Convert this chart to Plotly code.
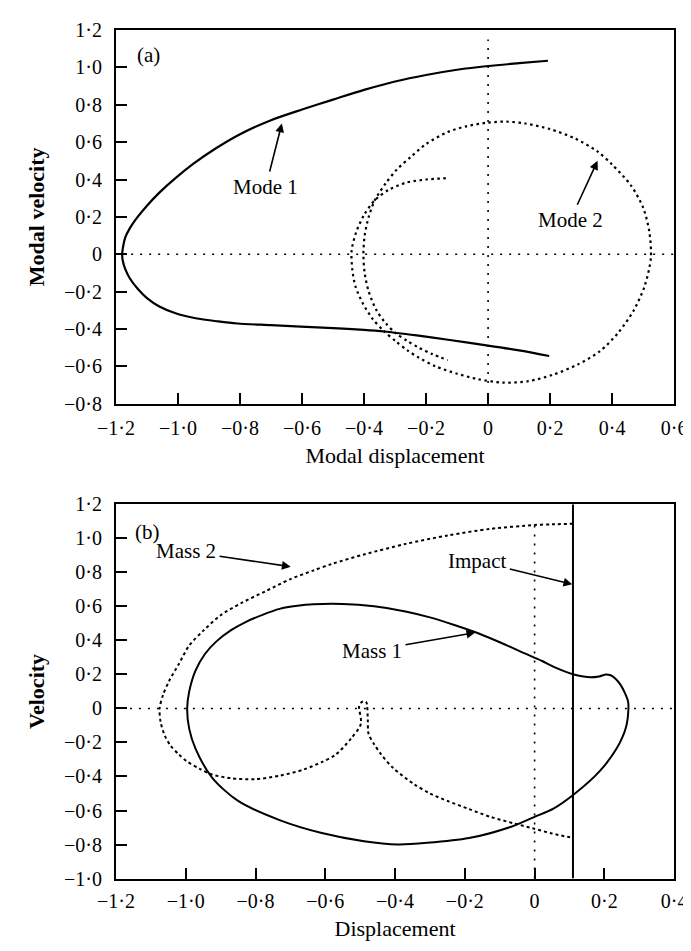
import plotly.graph_objects as go

# ---------------- Panel (a) data ----------------
mode1_x = [0.193, 0.10, 0.0, -0.10, -0.20, -0.30, -0.40, -0.50, -0.60, -0.70, -0.80, -0.88, -0.95,
           -1.01, -1.06, -1.10, -1.13, -1.155, -1.17, -1.178, -1.18,
           -1.178, -1.17, -1.155, -1.13, -1.10, -1.06, -1.01, -0.943, -0.87, -0.808, -0.70, -0.604,
           -0.50, -0.40, -0.333, -0.23, -0.129, 0.0, 0.10, 0.197]
mode1_y = [1.036, 1.023, 1.008, 0.988, 0.960, 0.925, 0.880, 0.828, 0.775, 0.718, 0.643, 0.565, 0.485,
           0.405, 0.33, 0.26, 0.20, 0.14, 0.09, 0.03, 0.0,
           -0.035, -0.08, -0.13, -0.185, -0.235, -0.28, -0.315, -0.343, -0.36, -0.371, -0.38, -0.388,
           -0.396, -0.405, -0.414, -0.435, -0.458, -0.489, -0.515, -0.545]

mode2_x = [-0.136, -0.20, -0.265, -0.32, -0.365, -0.40, -0.425, -0.440, -0.438, -0.428, -0.405,
           -0.373, -0.337, -0.297, -0.26, -0.224, -0.17, -0.10, -0.03,
           0.05, 0.13, 0.21, 0.29, 0.36, 0.42, 0.47, 0.505, 0.525, 0.52, 0.50, 0.46, 0.40, 0.353,
           0.28, 0.20, 0.12, 0.06, 0.0, -0.07, -0.13, -0.20, -0.25, -0.293, -0.33, -0.365, -0.385,
           -0.398, -0.402, -0.398, -0.385, -0.36, -0.33, -0.297, -0.26, -0.224, -0.18, -0.13]
mode2_y = [0.407, 0.400, 0.383, 0.345, 0.29, 0.21, 0.12, 0.02, -0.08, -0.17, -0.26,
           -0.345, -0.41, -0.467, -0.515, -0.553, -0.60, -0.64, -0.67,
           -0.688, -0.68, -0.645, -0.59, -0.52, -0.42, -0.30, -0.17, -0.02, 0.12, 0.25, 0.37, 0.48, 0.55,
           0.62, 0.67, 0.70, 0.71, 0.705, 0.685, 0.655, 0.59, 0.52, 0.456, 0.38, 0.29, 0.20,
           0.10, 0.0, -0.10, -0.20, -0.30, -0.37, -0.424, -0.465, -0.50, -0.535, -0.567]

ref_a_h_x = [-1.18, 0.6]
ref_a_h_y = [0.0, 0.0]
ref_a_v_x = [0.0, 0.0]
ref_a_v_y = [-0.69, 1.15]

# ---------------- Panel (b) data ----------------
mass1_x = [-0.996, -0.990, -0.972, -0.945, -0.912, -0.87, -0.827, -0.78, -0.731, -0.68, -0.634,
           -0.55, -0.46, -0.37, -0.30, -0.23, -0.16, -0.09, -0.03, 0.02, 0.06, 0.09, 0.115,
           0.14, 0.16, 0.185, 0.205, 0.218, 0.232, 0.246, 0.259, 0.268, 0.269, 0.262, 0.235, 0.186,
           0.114, 0.054, 0.0, -0.067, -0.188, -0.308, -0.393, -0.489, -0.610, -0.731, -0.851,
           -0.924, -0.972, -0.990, -0.996]
mass1_y = [0.0, 0.10, 0.222, 0.32, 0.394, 0.46, 0.509, 0.55, 0.585, 0.603, 0.612,
           0.614, 0.60, 0.57, 0.535, 0.49, 0.44, 0.38, 0.325, 0.28, 0.24, 0.215, 0.198,
           0.187, 0.183, 0.188, 0.200, 0.195, 0.175, 0.14, 0.09, 0.04, 0.0, -0.11, -0.236, -0.370,
           -0.503, -0.589, -0.637, -0.695, -0.762, -0.790, -0.799, -0.780, -0.732, -0.656, -0.542,
           -0.408, -0.236, -0.12, 0.0]

mass2_x = [0.110, 0.05, 0.0, -0.127, -0.248, -0.369, -0.489, -0.58, -0.635, -0.70, -0.77, -0.84,
           -0.899, -0.948, -0.99, -1.02, -1.048, -1.065, -1.075, -1.072, -1.06, -1.044, -1.02,
           -0.996, -0.96, -0.924, -0.87, -0.80, -0.73, -0.662, -0.61, -0.571, -0.526, -0.498,
           -0.503, -0.497, -0.489, -0.482, -0.480, -0.478, -0.476, -0.46, -0.44, -0.405, -0.345,
           -0.30, -0.248, -0.19, -0.127, -0.06, -0.006, 0.05, 0.110]
mass2_y = [1.085, 1.082, 1.078, 1.055, 1.017, 0.967, 0.905, 0.85, 0.81, 0.76, 0.69, 0.62,
           0.549, 0.46, 0.37, 0.26, 0.16, 0.08, 0.0, -0.08, -0.16, -0.217, -0.27,
           -0.312, -0.355, -0.389, -0.41, -0.416, -0.395, -0.359, -0.315, -0.273, -0.177, -0.091,
           0.014, 0.035, 0.043, 0.035, 0.014, -0.072, -0.149, -0.21, -0.27, -0.351, -0.446,
           -0.50, -0.545, -0.59, -0.637, -0.675, -0.704, -0.735, -0.761]

impact_x = [0.11, 0.11]
impact_y = [-1.0, 1.2]

ref_b_h_x = [-1.16, 0.4]
ref_b_h_y = [0.0, 0.0]
ref_b_v_x = [0.0, 0.0]
ref_b_v_y = [-1.0, 1.09]

# ---------------- Tick labels ----------------
xa_vals = [-1.2, -1.0, -0.8, -0.6, -0.4, -0.2, 0.0, 0.2, 0.4, 0.6]
xa_text = ["\u22121\u00b72", "\u22121\u00b70", "\u22120\u00b78", "\u22120\u00b76", "\u22120\u00b74",
           "\u22120\u00b72", "0", "0\u00b72", "0\u00b74", "0\u00b76"]
ya_vals = [-0.8, -0.6, -0.4, -0.2, 0.0, 0.2, 0.4, 0.6, 0.8, 1.0, 1.2]
ya_text = ["\u22120\u00b78", "\u22120\u00b76", "\u22120\u00b74", "\u22120\u00b72", "0",
           "0\u00b72", "0\u00b74", "0\u00b76", "0\u00b78", "1\u00b70", "1\u00b72"]
xb_vals = [-1.2, -1.0, -0.8, -0.6, -0.4, -0.2, 0.0, 0.2, 0.4]
xb_text = ["\u22121\u00b72", "\u22121\u00b70", "\u22120\u00b78", "\u22120\u00b76", "\u22120\u00b74",
           "\u22120\u00b72", "0", "0\u00b72", "0\u00b74"]
yb_vals = [-1.0, -0.8, -0.6, -0.4, -0.2, 0.0, 0.2, 0.4, 0.6, 0.8, 1.0, 1.2]
yb_text = ["\u22121\u00b70", "\u22120\u00b78", "\u22120\u00b76", "\u22120\u00b74", "\u22120\u00b72", "0",
           "0\u00b72", "0\u00b74", "0\u00b76", "0\u00b78", "1\u00b70", "1\u00b72"]

FONT = "Liberation Serif"
BLACK = "#000000"

fig = go.Figure()

def add_line(x, y, xa, ya, dash=None, width=2.0, smooth=True):
    line = dict(color=BLACK, width=width, dash=dash)
    if smooth:
        line.update(shape="spline", smoothing=0.8)
    fig.add_trace(go.Scatter(x=x, y=y, mode="lines", xaxis=xa, yaxis=ya, line=line,
                             hoverinfo="skip", showlegend=False))

# panel (a)
add_line(ref_a_h_x, ref_a_h_y, "x", "y", dash="2px,7px", width=1.6, smooth=False)
add_line(ref_a_v_x, ref_a_v_y, "x", "y", dash="2px,7px", width=1.6, smooth=False)
add_line(mode2_x, mode2_y, "x", "y", dash="2.5px,3.5px", width=2.2)
add_line(mode1_x, mode1_y, "x", "y", width=2.2)

# panel (b)
add_line(ref_b_h_x, ref_b_h_y, "x2", "y2", dash="2px,7px", width=1.6, smooth=False)
add_line(ref_b_v_x, ref_b_v_y, "x2", "y2", dash="2px,7px", width=1.6, smooth=False)
add_line(mass2_x, mass2_y, "x2", "y2", dash="3px,3px", width=2.0)
add_line(mass1_x, mass1_y, "x2", "y2", width=2.0)
add_line(impact_x, impact_y, "x2", "y2", width=2.0, smooth=False)

tick_font = dict(family=FONT, size=20, color=BLACK)
title_font = dict(family=FONT, size=22, color=BLACK)
axis_common = dict(showgrid=False, zeroline=False, showline=True, mirror=True,
                   linecolor=BLACK, linewidth=2, ticks="inside", ticklen=11, tickwidth=1.5,
                   tickcolor=BLACK, tickfont=tick_font, tickmode="array",
                   ticklabeloverflow="allow")

fig.update_layout(
    width=691, height=951,
    margin=dict(l=0, r=0, t=0, b=0),
    paper_bgcolor="white", plot_bgcolor="white",
    font=dict(family=FONT, size=20, color=BLACK),
    xaxis=dict(axis_common, domain=[0.135, 0.982], range=[-1.2, 0.6], anchor="y",
               tickvals=xa_vals, ticktext=xa_text, ticklabelstandoff=5,
               title=dict(text="Modal displacement", font=title_font, standoff=10)),
    yaxis=dict(axis_common, domain=[0.586, 0.988], range=[-0.8, 1.2], anchor="x",
               tickvals=ya_vals, ticktext=ya_text, ticklabelstandoff=8,
               title=dict(text="<b>Modal velocity</b>", font=title_font, standoff=13)),
    xaxis2=dict(axis_common, domain=[0.135, 0.982], range=[-1.2, 0.4], anchor="y2",
                tickvals=xb_vals, ticktext=xb_text, ticklabelstandoff=3,
                title=dict(text="Displacement", font=title_font, standoff=10)),
    yaxis2=dict(axis_common, domain=[0.0747, 0.4777], range=[-1.0, 1.2], anchor="x2",
                tickvals=yb_vals, ticktext=yb_text, ticklabelstandoff=8,
                title=dict(text="<b>Velocity</b>", font=title_font, standoff=13)),
)

ann_font = dict(family=FONT, size=21, color=BLACK)
annotations = [
    dict(text="(a)", x=-1.096, y=1.069, xref="x", yref="y", showarrow=False, font=ann_font),
    dict(text="Mode 1", x=-0.665, y=0.70, ax=-0.717, ay=0.36, xref="x", yref="y", axref="x", ayref="y"),
    dict(text="Mode 2", x=0.353, y=0.50, ax=0.265, ay=0.183, xref="x", yref="y", axref="x", ayref="y"),
    dict(text="(b)", x=-1.111, y=1.038, xref="x2", yref="y2", showarrow=False, font=ann_font),
    dict(text="Mass 2", x=-0.699, y=0.833, ax=-0.999, ay=0.923, xref="x2", yref="y2", axref="x2", ayref="y2"),
    dict(text="Impact", x=0.108, y=0.729, ax=-0.164, ay=0.866, xref="x2", yref="y2", axref="x2", ayref="y2"),
    dict(text="Mass 1", x=-0.170, y=0.446, ax=-0.466, ay=0.339, xref="x2", yref="y2", axref="x2", ayref="y2"),
]
for a in annotations:
    if a.get("showarrow", True):
        a.update(showarrow=True, arrowhead=2, arrowsize=1.1, arrowwidth=1.6, arrowcolor=BLACK,
                 font=ann_font, standoff=0, startstandoff=2)
    fig.add_annotation(**a)

fig.write_html("out.html")
